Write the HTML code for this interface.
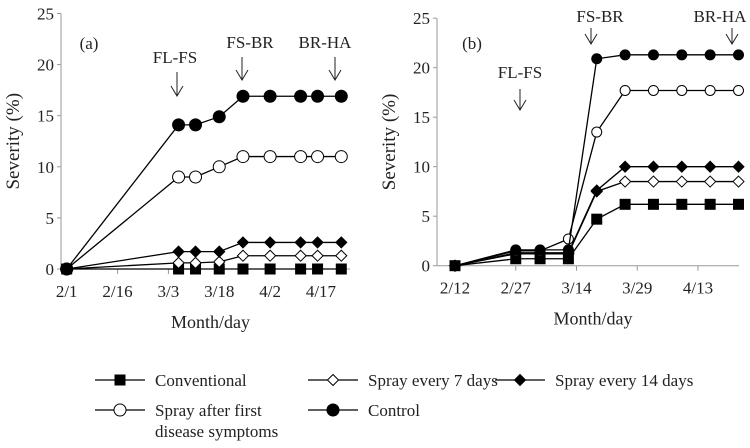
<!DOCTYPE html>
<html><head><meta charset="utf-8"><style>
body{margin:0;background:#fff;}
svg text{font-family:"Liberation Serif",serif;fill:#222;}
</style></head><body>
<svg id="chart" width="750" height="443" viewBox="0 0 750 443">
<g id="pa"></g>
<g id="pb"></g>
<g id="legend"></g>
</svg>
<script>
const NS="http://www.w3.org/2000/svg";
const seriesNames=["conventional","spray-7","spray-14","spray-after-symptoms","control"];
const seriesLabels=["Conventional","Spray every 7 days","Spray every 14 days","Spray after first","Control"];
const markers=["square","odiamond","fdiamond","ocircle","fcircle"];
// Panel A: days since 2/1
const daysA=[0,33,38,45,52,60,69,74,81];
const tickDaysA=[0,15,30,45,60,75];
const tickLabelsA=["2/1","2/16","3/3","3/18","4/2","4/17"];
const convA=[0,0,0,0,0,0,0,0,0];
const s7A=[0,0.6,0.6,0.7,1.3,1.3,1.3,1.3,1.3];
const s14A=[0,1.7,1.7,1.7,2.6,2.6,2.6,2.6,2.6];
const afterA=[0,9,9,10,11,11,11,11,11];
const ctrlA=[0,14.1,14.1,14.9,16.9,16.9,16.9,16.9,16.9];
// Panel B: days since 2/12
const daysB=[0,15,21,28,35,42,49,56,63,70];
const tickDaysB=[0,15,30,45,60];
const tickLabelsB=["2/12","2/27","3/14","3/29","4/13"];
const convB=[0,0.7,0.7,0.7,4.7,6.2,6.2,6.2,6.2,6.2];
const s7B=[0,1.2,1.2,1.2,7.5,8.5,8.5,8.5,8.5,8.5];
const s14B=[0,1.3,1.3,1.3,7.6,10,10,10,10,10];
const afterB=[0,1.5,1.5,2.7,13.5,17.7,17.7,17.7,17.7,17.7];
const ctrlB=[0,1.6,1.6,1.6,20.9,21.3,21.3,21.3,21.3,21.3];
const yTicks=[0,5,10,15,20,25];

function el(p,tag,attrs){const e=document.createElementNS(NS,tag);for(const k in attrs)e.setAttribute(k,attrs[k]);p.appendChild(e);return e;}
function txt(p,x,y,s,size,anchor){const t=el(p,"text",{x:x,y:y,"font-size":size,"text-anchor":anchor||"middle"});t.textContent=s;return t;}
function marker(p,type,x,y,sc){
  let m;
  if(type==="square")m=el(p,"rect",{x:x-5.5,y:y-5.5,width:11,height:11,fill:"#000"});
  else if(type==="odiamond"||type==="fdiamond"){const d=5.5;m=el(p,"polygon",{points:`${x},${y-d} ${x+d},${y} ${x},${y+d} ${x-d},${y}`,fill:type==="fdiamond"?"#000":"#fff",stroke:"#000","stroke-width":1});}
  else m=el(p,"circle",{cx:x,cy:y,r:sc,fill:type==="fcircle"?"#000":"#fff",stroke:"#000","stroke-width":1});
  return m;
}
function panel(g,cfg){
  const X=d=>cfg.x0+d*cfg.pxd, Y=v=>cfg.y0-v*cfg.pxv;
  const yAxis=el(g,"line",{x1:cfg.ax,y1:Y(25),x2:cfg.ax,y2:Y(0),stroke:"#999"});
  
  
  const xAxis=el(g,"line",{x1:cfg.ax,y1:Y(0),x2:cfg.xEnd,y2:Y(0),stroke:"#999"});
  
  
  yTicks.forEach(v=>{
    el(g,"line",{x1:cfg.ax-4,y1:Y(v),x2:cfg.ax,y2:Y(v),stroke:"#999"});
    const t=txt(g,cfg.ax-7,Y(v)+6,String(v),17,"end");
    
    
  });
  cfg.ticks.forEach((d,i)=>{
    el(g,"line",{x1:X(d),y1:Y(0),x2:X(d),y2:Y(0)+5,stroke:"#999"});
    const t=txt(g,X(d),Y(0)+28,cfg.tickLabels[i],17);
    
    
  });
  const xt=txt(g,(cfg.ax+cfg.xEnd)/2+5,Y(0)+59,"Month/day",18);
  
  
  const yt=txt(g,0,0,"Severity (%)",19);
  yt.setAttribute("transform",`translate(${cfg.ax-42},${Y(12.5)}) rotate(-90)`);
  
  
  const pl=txt(g,cfg.lab[0],cfg.lab[1],cfg.label,17);
  
  
  cfg.stages.forEach(s=>{
    const t=txt(g,s.tx,s.ty,s.name,17);
    
    
    const a=el(g,"path",{d:`M${s.ax},${s.y1} V${s.y2} M${s.ax-6},${s.y2-10} L${s.ax},${s.y2} L${s.ax+6},${s.y2-10}`,stroke:"#222",fill:"none","stroke-width":1});
    
    
  });
  cfg.series.forEach((vals,si)=>{
    const sg=el(g,"g",{});
    
    
    const pts=vals.map((v,i)=>X(cfg.days[i])+","+Y(v)).join(" ");
    el(sg,"polyline",{points:pts,fill:"none",stroke:"#000","stroke-width":1.3});
    vals.forEach((v,i)=>{
      const m=marker(sg,markers[si],X(cfg.days[i]),Y(v),cfg.r);
      
      
    });
  });
}
panel(document.getElementById("pa"),{x0:66.7,pxd:3.39,y0:269,pxv:10.22,ax:61,xEnd:350,
  days:daysA,ticks:tickDaysA,tickLabels:tickLabelsA,series:[convA,s7A,s14A,afterA,ctrlA],r:6,
  label:"(a)",lab:[89,49],
  stages:[{name:"FL-FS",tx:175,ty:63,ax:177,y1:72,y2:96},{name:"FS-BR",tx:250,ty:48,ax:242,y1:57,y2:80},{name:"BR-HA",tx:325,ty:48,ax:335,y1:57,y2:80}]});
panel(document.getElementById("pb"),{x0:455,pxd:4.05,y0:265.7,pxv:9.9,ax:437,xEnd:739,
  days:daysB,ticks:tickDaysB,tickLabels:tickLabelsB,series:[convB,s7B,s14B,afterB,ctrlB],r:5,
  label:"(b)",lab:[472,49],
  stages:[{name:"FL-FS",tx:520,ty:78,ax:520,y1:89,y2:110},{name:"FS-BR",tx:600,ty:22,ax:591,y1:28,y2:44},{name:"BR-HA",tx:720,ty:22,ax:732,y1:28,y2:44}]});

const lg=document.getElementById("legend");
const legX=[95,308,495,95,308];
const legY=[380,380,380,410,410];
legX.forEach((x,i)=>{
  const e=el(lg,"g",{});
  
  
  el(e,"line",{x1:x,y1:legY[i],x2:x+50,y2:legY[i],stroke:"#000","stroke-width":1.3});
  marker(e,markers[i],x+25,legY[i],6);
  txt(e,x+60,legY[i]+6,seriesLabels[i],17,"start");
  if(i===3)txt(e,x+60,legY[i]+27,"disease symptoms",17,"start");
});
</script>
</body></html>
